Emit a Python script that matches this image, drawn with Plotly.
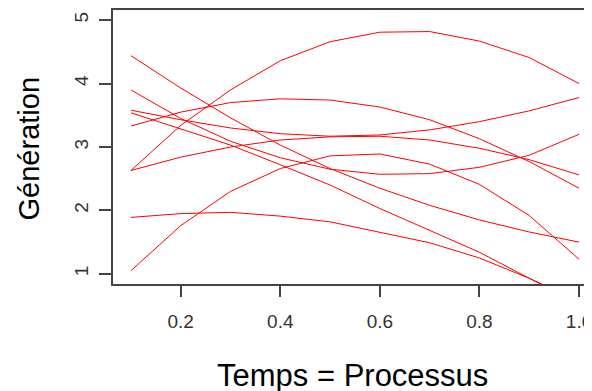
import plotly.graph_objects as go

temps = [0.1, 0.2, 0.3, 0.4, 0.5, 0.6, 0.7, 0.8, 0.9, 1.0]

serie_1 = [2.63, 3.34, 3.90, 4.36, 4.66, 4.81, 4.82, 4.67, 4.41, 4.00]
serie_2 = [3.33, 3.55, 3.70, 3.76, 3.74, 3.63, 3.43, 3.13, 2.77, 2.35]
serie_3 = [3.58, 3.43, 3.30, 3.21, 3.17, 3.19, 3.27, 3.40, 3.57, 3.78]
serie_4 = [2.63, 2.84, 3.00, 3.11, 3.16, 3.17, 3.11, 2.98, 2.80, 2.56]
serie_5 = [3.90, 3.45, 3.09, 2.83, 2.65, 2.57, 2.58, 2.68, 2.87, 3.20]
serie_6 = [4.44, 3.93, 3.46, 3.03, 2.66, 2.35, 2.08, 1.85, 1.66, 1.50]
serie_7 = [3.54, 3.29, 3.03, 2.72, 2.40, 2.03, 1.68, 1.34, 0.93, 0.53]
serie_8 = [1.89, 1.95, 1.97, 1.91, 1.82, 1.66, 1.49, 1.25, 0.93, 0.57]
serie_9 = [1.05, 1.76, 2.30, 2.66, 2.86, 2.89, 2.73, 2.41, 1.92, 1.23]

series = [serie_1, serie_2, serie_3, serie_4, serie_5, serie_6, serie_7, serie_8, serie_9]

x_ticks = [0.2, 0.4, 0.6, 0.8, 1.0]
x_tick_labels = ["0.2", "0.4", "0.6", "0.8", "1.0"]
y_ticks = [1, 2, 3, 4, 5]
y_tick_labels = ["1", "2", "3", "4", "5"]

x_title = "Temps = Processus"
y_title = "Génération"

FONT = "Liberation Sans, Arial, sans-serif"
AXIS_COLOR = "#444444"

fig = go.Figure()
for s in series:
    fig.add_trace(go.Scatter(x=temps, y=s, mode="lines",
                             line=dict(color="#ff0000", width=1),
                             showlegend=False, hoverinfo="skip"))

# page body has an 8px margin: figure is 584x383 so the page is 592x391
fig.update_layout(
    width=584, height=383,
    margin=dict(l=105, r=0, t=0, b=107),
    paper_bgcolor="white", plot_bgcolor="white",
    font=dict(family=FONT, color="#222222"),
    xaxis=dict(range=[0.064, 1.024], tickvals=x_ticks, ticktext=x_tick_labels,
               showgrid=False, zeroline=False, showline=True, mirror=True,
               linecolor=AXIS_COLOR, linewidth=1.5, ticks="outside",
               ticklen=11, tickwidth=1.5, tickcolor=AXIS_COLOR,
               ticklabeloverflow="allow",
               tickfont=dict(size=19, color="#333333"), ticklabelstandoff=8),
    yaxis=dict(range=[0.84, 5.16], tickvals=y_ticks, ticktext=y_tick_labels,
               showgrid=False, zeroline=False, showline=True, mirror=False,
               linecolor=AXIS_COLOR, linewidth=1.5, ticks="outside",
               ticklen=12, tickwidth=1.5, tickcolor=AXIS_COLOR, tickangle=-90,
               tickfont=dict(size=19, color="#333333"), ticklabelstandoff=4),
    annotations=[
        dict(text=x_title, xref="paper", yref="paper", x=0.5, y=-0.335,
             xanchor="center", yanchor="middle", showarrow=False,
             font=dict(size=31, color="#000000", family=FONT)),
        dict(text=y_title, xref="paper", yref="paper", x=-0.175, y=0.496,
             xanchor="center", yanchor="middle", showarrow=False, textangle=-90,
             font=dict(size=29, color="#000000", family=FONT)),
    ],
)

fig.write_html("out.html")
